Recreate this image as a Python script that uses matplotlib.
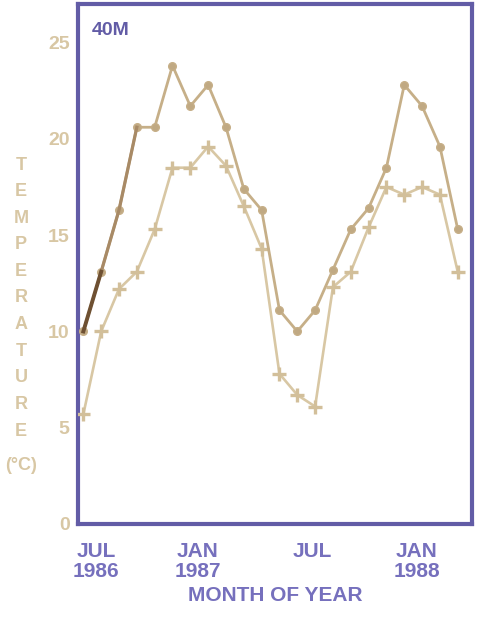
import matplotlib
matplotlib.use("Agg")
import matplotlib.pyplot as plt

# Monthly mean temperature at 40 m, Jul 1986 - Apr 1988
months = list(range(22))
temp_max = [10.0, 13.1, 16.3, 20.6, 20.6, 23.8, 21.7, 22.8, 20.6, 17.4, 16.3,
            11.1, 10.0, 11.1, 13.2, 15.3, 16.4, 18.5, 22.8, 21.7, 19.6, 15.3]
temp_min = [5.7, 10.0, 12.2, 13.1, 15.3, 18.5, 18.5, 19.6, 18.6, 16.5, 14.3,
            7.8, 6.7, 6.1, 12.3, 13.1, 15.4, 17.5, 17.1, 17.5, 17.1, 13.1]
tick_pos = [0.7, 6.4, 12.85, 18.7]
tick_labels = ["JUL\n1986", "JAN\n1987", "JUL", "JAN\n1988"]
y_ticks = [0, 5, 10, 15, 20, 25]
station = "40M"
ylabel_letters = list("TEMPERATURE") + ["(°C)"]

frame_col = "#625ca6"
text_blue = "#7670bd"
tan = "#d8c7a4"
tan_dark = "#c6af88"
brown = "#6e5032"

W, H = 478, 619
fig = plt.figure(figsize=(W / 100, H / 100), dpi=100)
fig.patch.set_facecolor("white")
ax = fig.add_axes([78 / W, 1 - 524 / H, (472 - 78) / W, (524 - 4) / H])

ax.plot(months, temp_min, color=tan, lw=1.9, marker="+", ms=9.5, mew=2.4,
        mec="#d2bf9a", zorder=3)
ax.plot(months, temp_max, color=tan_dark, lw=2.0, marker="o", ms=5.5,
        mfc="#c0a983", mec=tan_dark, zorder=4)
# darker early segments of the upper curve
ax.plot(months[1:4], temp_max[1:4], color="#a88a66", lw=2.3, zorder=5)
ax.plot(months[0:2], temp_max[0:2], color=brown, lw=2.8, zorder=6)

ax.set_xlim(-0.3, 21.8)
ax.set_ylim(0, 27)

ax.set_xticks(tick_pos)
ax.set_xticklabels(tick_labels, fontsize=15, fontweight="bold",
                   color=text_blue, family="Liberation Sans", linespacing=1.05)
ax.set_yticks(y_ticks)
ax.set_yticklabels([str(v) for v in y_ticks], fontsize=14, fontweight="bold",
                   color=tan, family="Liberation Sans")
ax.tick_params(axis="both", length=0)
ax.tick_params(axis="x", pad=13)
ax.tick_params(axis="y", pad=6)

ax.set_xlabel("MONTH OF YEAR", fontsize=15, fontweight="bold", color=text_blue,
              family="Liberation Sans", labelpad=4)

for s in ax.spines.values():
    s.set_color(frame_col)
    s.set_linewidth(3.0)

ax.text(0.035, 0.965, station, transform=ax.transAxes, ha="left", va="top",
        fontsize=14, fontweight="bold", color=frame_col, family="Liberation Sans")

# stacked vertical axis title
y0 = 165
step = 26.6
for i, ch in enumerate(ylabel_letters):
    yy = y0 + i * step + (8 if i == len(ylabel_letters) - 1 else 0)
    fig.text(21 / W, 1 - yy / H, ch, ha="center", va="center", fontsize=13,
             fontweight="bold", color=tan, family="Liberation Sans")

fig.savefig("out.png", dpi=100, facecolor="white")
